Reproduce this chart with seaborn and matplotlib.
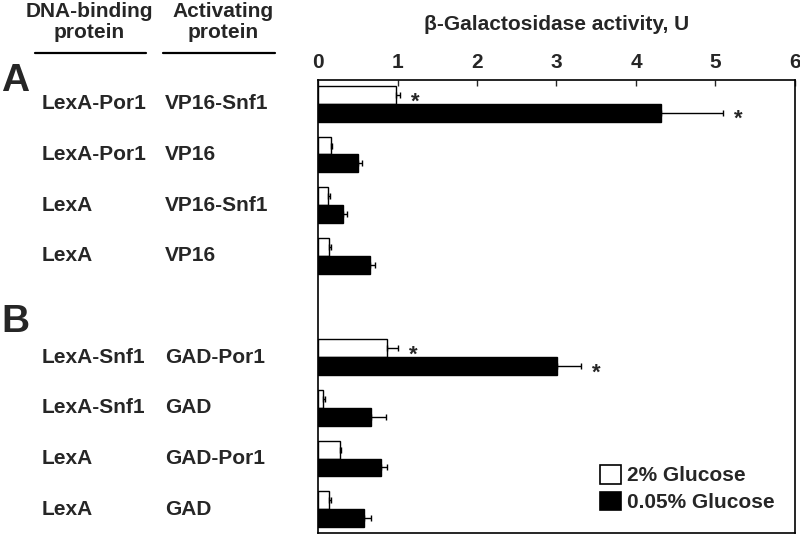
import numpy as np
import pandas as pd
import matplotlib
matplotlib.use("Agg")
import matplotlib.pyplot as plt
import seaborn as sns
from matplotlib.lines import Line2D
from matplotlib.patches import Patch

# ====================== DATA ======================

panels       = ["A", "A", "A", "A", "B", "B", "B", "B"]
dna_binding  = ["LexA-Por1", "LexA-Por1", "LexA", "LexA",
                "LexA-Snf1", "LexA-Snf1", "LexA", "LexA"]
activating   = ["VP16-Snf1", "VP16", "VP16-Snf1", "VP16",
                "GAD-Por1", "GAD", "GAD-Por1", "GAD"]

glc_high     = [0.98, 0.16, 0.13, 0.14, 0.87, 0.06, 0.28, 0.14]   # 2% glucose
glc_high_err = [0.05, 0.02, 0.02, 0.02, 0.14, 0.03, 0.01, 0.02]
glc_low      = [4.31, 0.50, 0.31, 0.65, 3.01, 0.67, 0.79, 0.58]   # 0.05% glucose
glc_low_err  = [0.79, 0.05, 0.05, 0.07, 0.30, 0.18, 0.08, 0.09]
significant  = [True, False, False, False, True, False, False, False]

series_names = ["2% Glucose", "0.05% Glucose"]
x_ticks      = [0, 1, 2, 3, 4, 5, 6]
x_title      = "\u03b2-Galactosidase activity, U"
headers      = ["DNA-binding\nprotein", "Activating\nprotein"]

# ====================== LAYOUT ======================

# one empty row between panel A and panel B
panel_order = list(dict.fromkeys(panels))
positions   = [i + panel_order.index(p) for i, p in enumerate(panels)]

df = pd.DataFrame({
    "pos":      positions * 2,
    "activity": glc_high + glc_low,
    "err":      glc_high_err + glc_low_err,
    "glucose":  [series_names[0]] * len(panels) + [series_names[1]] * len(panels),
})

sns.set_style("white")
plt.rcParams["font.family"] = ["Liberation Sans", "DejaVu Sans"]
plt.rcParams["font.weight"] = "bold"

FS = 15

fig = plt.figure(figsize=(8, 5.36), dpi=100)
ax = fig.add_axes([318 / 800, 1 - 533 / 536, 477 / 800, 453 / 536])

sns.barplot(
    data=df, x="activity", y="pos", hue="glucose", hue_order=series_names,
    orient="h", native_scale=True, width=0.7, errorbar=None,
    palette={series_names[0]: "white", series_names[1]: "black"},
    edgecolor="black", linewidth=1.0, legend=False, ax=ax,
)

# ---- error bars (one sided) + stars ----
err_lookup = {(g, p): e for g, p, e in zip(df["glucose"], df["pos"], df["err"])}
for name, cont in zip(series_names, ax.containers):
    for patch in cont.patches:
        yc  = patch.get_y() + patch.get_height() / 2
        xv  = patch.get_x() + patch.get_width()
        pos = int(round(yc))
        err = err_lookup[(name, pos)]
        ax.errorbar(xv, yc, xerr=[[0], [err]], fmt="none", ecolor="black",
                    elinewidth=1.0, capsize=2, capthick=1.0)
        row = positions.index(pos)
        if significant[row]:
            ax.annotate("*", (xv + err, yc), xytext=(11, -5),
                        textcoords="offset points", ha="center", va="center",
                        fontsize=FS + 1, fontweight="bold")

ax.set_xlim(x_ticks[0], x_ticks[-1])
ax.set_ylim(max(positions) + 0.47, -0.47)
ax.set_xticks(x_ticks)
ax.set_xticklabels([str(t) for t in x_ticks], fontsize=FS, fontweight="bold")
ax.set_yticks([])
ax.set_xlabel("")
ax.set_ylabel("")
ax.xaxis.tick_top()
ax.tick_params(axis="x", direction="in", length=4, width=1, pad=6,
               top=True, bottom=False, labeltop=True, labelbottom=False)
for sp in ax.spines.values():
    sp.set_visible(True)
    sp.set_color("black")
    sp.set_linewidth(1.2)
ax.set_title(x_title, fontsize=FS, fontweight="bold", pad=36)

# ---- legend ----
handles = [Patch(facecolor="white", edgecolor="black", linewidth=1.2),
           Patch(facecolor="black", edgecolor="black", linewidth=1.2)]
ax.legend(handles, series_names, loc="lower right", frameon=False,
          prop={"size": FS, "weight": "bold"}, handlelength=1.0,
          handleheight=1.0, handletextpad=0.25, labelspacing=0.3,
          borderaxespad=0.6)

# ---- left side labels ----
trans = matplotlib.transforms.blended_transform_factory(fig.transFigure, ax.transData)
col_x = [42 / 800, 165 / 800]
for pos, d, a in zip(positions, dna_binding, activating):
    fig.text(col_x[0], pos, d, transform=trans, ha="left", va="center",
             fontsize=FS, fontweight="bold")
    fig.text(col_x[1], pos, a, transform=trans, ha="left", va="center",
             fontsize=FS, fontweight="bold")

# headers with underlines
for cx, h, (x0, x1) in zip([89 / 800, 223 / 800], headers,
                           [(35 / 800, 146 / 800), (163 / 800, 275 / 800)]):
    fig.text(cx, 1 - 22 / 536, h, ha="center", va="center", fontsize=FS,
             fontweight="bold", linespacing=1.1)
    fig.add_artist(Line2D([x0, x1], [1 - 53 / 536] * 2, color="black",
                          linewidth=1.6, transform=fig.transFigure))

# panel letters
panel_y = {"A": 81, "B": 322}
for p in panel_order:
    fig.text(1 / 800, 1 - panel_y[p] / 536, p, ha="left", va="center",
             fontsize=28, fontweight="bold")

fig.savefig("out.png", dpi=100)
